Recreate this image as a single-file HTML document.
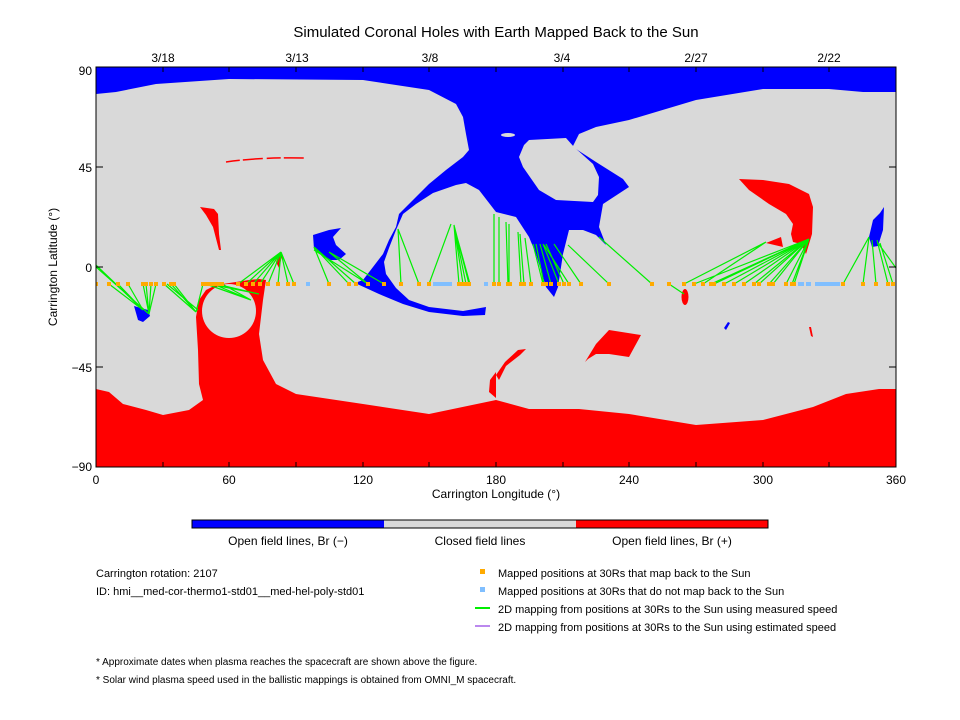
<!DOCTYPE html>
<html><head><meta charset="utf-8"><style>
html,body{margin:0;padding:0;background:#fff}
svg{display:block}
text{font-family:"Liberation Sans",sans-serif;fill:#000}
</style></head><body>
<svg width="960" height="720" viewBox="0 0 960 720" xmlns="http://www.w3.org/2000/svg">
<rect width="960" height="720" fill="#fff"/>
<text x="496" y="37" font-size="15" text-anchor="middle">Simulated Coronal Holes with Earth Mapped Back to the Sun</text>
<g font-size="12" text-anchor="middle">
<text x="163" y="62">3/18</text><text x="297" y="62">3/13</text><text x="430" y="62">3/8</text>
<text x="562" y="62">3/4</text><text x="696" y="62">2/27</text><text x="829" y="62">2/22</text>
</g>
<clipPath id="c"><rect x="96" y="67" width="800" height="400"/></clipPath>
<g clip-path="url(#c)">
<rect x="96" y="67" width="800" height="400" fill="#d9d9d9"/>
<path fill="#0000ff" d="M96,67 L896,67 L896,92 L863,92 L829,89 L763,89 L696,100 L629,120 L596,127 L579,134 L572,148 L576,149 L596,162 L623,179 L629,187 L603,204 L599,227 L606,245 L596,235 L583,230 L569,230 L563,254 L558,287 L554,297 L546,287 L536,254 L529,237 L516,217 L496,212 L479,190 L466,183 L456,185 L433,193 L416,204 L403,214 L396,230 L389,248 L384,262 L386,274 L396,288 L409,300 L429,307 L463,311 L486,307 L485,315 L463,316 L429,312 L403,304 L379,294 L355,283 L363,280 L373,267 L383,254 L389,240 L396,227 L399,214 L413,200 L429,184 L446,170 L463,157 L469,150 L466,134 L463,117 L456,104 L429,90 L363,80 L229,79 L156,84 L116,92 L96,94 Z"/>
<path fill="#d9d9d9" d="M529,140 L566,138 L574,147 L593,164 L599,177 L598,195 L593,202 L556,200 L539,190 L523,167 L519,157 L524,145 Z"/>
<ellipse cx="508" cy="135" rx="7" ry="2" fill="#d9d9d9"/>
<path fill="#ff0000" d="M96,389 L109,392 L123,404 L146,410 L163,415 L189,410 L203,400 L199,384 L198,350 L196,317 L199,300 L206,290 L216,285 L249,280 L259,279 L266,280 L263,300 L259,334 L263,360 L276,384 L296,394 L363,404 L429,414 L496,400 L529,409 L579,409 L629,414 L696,425 L763,420 L813,407 L846,394 L879,389 L896,389 L896,467 L96,467 Z"/>
<circle cx="229" cy="311" r="27" fill="#d9d9d9"/>
<path fill="#ff0000" d="M200,207 L214,209 L218,214 L219,234 L221,250 L219,250 L213,227 L206,215 Z"/>
<path d="M226,162 Q260,157 306,158" stroke="#ff0000" stroke-width="1.5" fill="none" stroke-dasharray="14,3,20,4"/>
<path fill="#ff0000" d="M276,262 L280,252 L282,256 L279,268 Z"/>
<path fill="#ff0000" d="M739,179 L763,180 L789,184 L809,194 L813,207 L812,234 L809,244 L806,254 L801,244 L793,242 L791,234 L793,224 L786,214 L769,204 L749,190 Z"/>
<path fill="#ff0000" d="M766,243 L781,237 L783,247 Z"/>
<ellipse cx="685" cy="297" rx="3.5" ry="8" fill="#ff0000"/>
<path fill="#ff0000" d="M585,362 L596,344 L609,330 L641,335 L629,357 L609,354 L596,354 L588,359 Z"/>
<path fill="#ff0000" d="M496,375 L505,362 L518,350 L526,349 L520,355 L506,366 L499,380 Z"/>
<path fill="#ff0000" d="M496,372 L490,380 L489,392 L496,398 Z"/>
<path fill="#ff0000" d="M809,327 L811,327 L813,337 L811,336 Z"/>
<path fill="#0000ff" d="M724,328 L728,322 L730,323 L726,330 Z"/>
<path fill="#0000ff" d="M884,207 L880,213 L873,220 L869,237 L872,247 L878,246 L883,230 Z"/>
<path fill="#0000ff" d="M313,235 L329,230 L341,228 L333,237 L336,245 L346,254 L339,260 L329,260 L314,249 Z"/>
<path fill="#0000ff" d="M134,306 L148,310 L150,316 L143,322 L138,320 Z"/>
<g stroke="#00ee00" stroke-width="1.2" fill="none">
<path d="M96,265 L143,310 M96,267 L149,314 M109,284 L143,310 M118,284 L143,310 M128,284 L143,310
M143,284 L149,314 M146,284 L149,314 M151,284 L149,314 M156,284 L149,314
M164,284 L196,312 M171,284 L196,312 M174,284 L196,312 M167,284 L198,310
M203,284 L196,312 M206,284 L251,300 M209,284 L259,294 M213,284 L251,300 M216,284 L259,294 M222,284 L251,300
M238,284 L281,252 M246,284 L281,252 M253,284 L281,252 M260,284 L281,252 M268,284 L281,252 M278,284 L281,252 M288,284 L281,252 M294,284 L281,252
M329,284 L314,247 M349,284 L314,247 M356,284 L314,247 M368,284 L329,252 M384,284 L329,252 M368,284 L314,250
M401,284 L398,229 M419,284 L398,229 M429,284 L451,224 M459,284 L454,225 M463,284 L454,225 M466,284 L454,225 M469,284 L454,225 M470,284 L454,226
M494,284 L494,214
M499,284 L499,217 M508,284 L506,222 M509,284 L509,224 M521,284 L518,232 M524,284 L520,234 M531,284 L525,238
M543,284 L533,244 M544,284 L536,244 M551,284 L540,244 M559,284 L543,244 M564,284 L546,244 M569,284 L544,245 M581,284 L554,244 M609,284 L568,245
M652,284 L599,237 M669,284 L684,294
M684,284 L766,242 M694,284 L809,239 M703,284 L766,242 M711,284 L809,239 M714,284 L809,239 M724,284 L809,239 M734,284 L809,239 M744,284 L809,239 M754,284 L809,239 M759,284 L809,239 M769,284 L809,239 M773,284 L809,239 M786,284 L809,239 M792,284 L809,239 M794,284 L809,239
M843,284 L869,237 M863,284 L869,237 M876,284 L872,240 M888,284 L877,240 M893,284 L880,243 M896,268 L878,243"/>
</g>
<g fill="#ffaa00">
<rect x="94" y="282" width="4" height="4"/><rect x="107" y="282" width="4" height="4"/><rect x="116" y="282" width="4" height="4"/><rect x="126" y="282" width="4" height="4"/>
<rect x="141" y="282" width="4" height="4"/><rect x="144" y="282" width="4" height="4"/><rect x="149" y="282" width="4" height="4"/><rect x="154" y="282" width="4" height="4"/>
<rect x="162" y="282" width="4" height="4"/><rect x="169" y="282" width="4" height="4"/><rect x="172" y="282" width="4" height="4"/>
<rect x="201" y="282" width="4" height="4"/><rect x="204" y="282" width="4" height="4"/><rect x="207" y="282" width="4" height="4"/><rect x="211" y="282" width="4" height="4"/><rect x="214" y="282" width="4" height="4"/><rect x="218" y="282" width="4" height="4"/><rect x="220" y="282" width="4" height="4"/>
<rect x="236" y="282" width="4" height="4"/><rect x="244" y="282" width="4" height="4"/><rect x="251" y="282" width="4" height="4"/><rect x="258" y="282" width="4" height="4"/><rect x="266" y="282" width="4" height="4"/><rect x="276" y="282" width="4" height="4"/><rect x="286" y="282" width="4" height="4"/><rect x="292" y="282" width="4" height="4"/>
<rect x="327" y="282" width="4" height="4"/><rect x="347" y="282" width="4" height="4"/><rect x="354" y="282" width="4" height="4"/><rect x="366" y="282" width="4" height="4"/><rect x="382" y="282" width="4" height="4"/>
<rect x="399" y="282" width="4" height="4"/><rect x="417" y="282" width="4" height="4"/><rect x="427" y="282" width="4" height="4"/>
<rect x="457" y="282" width="4" height="4"/><rect x="461" y="282" width="4" height="4"/><rect x="464" y="282" width="4" height="4"/><rect x="467" y="282" width="4" height="4"/><rect x="492" y="282" width="4" height="4"/>
<rect x="497" y="282" width="4" height="4"/><rect x="506" y="282" width="4" height="4"/><rect x="508" y="282" width="4" height="4"/><rect x="519" y="282" width="4" height="4"/><rect x="522" y="282" width="4" height="4"/><rect x="529" y="282" width="4" height="4"/>
<rect x="541" y="282" width="4" height="4"/><rect x="544" y="282" width="4" height="4"/><rect x="549" y="282" width="4" height="4"/><rect x="557" y="282" width="4" height="4"/><rect x="562" y="282" width="4" height="4"/><rect x="567" y="282" width="4" height="4"/><rect x="579" y="282" width="4" height="4"/>
<rect x="607" y="282" width="4" height="4"/><rect x="650" y="282" width="4" height="4"/><rect x="667" y="282" width="4" height="4"/>
<rect x="682" y="282" width="4" height="4"/><rect x="692" y="282" width="4" height="4"/><rect x="701" y="282" width="4" height="4"/><rect x="709" y="282" width="4" height="4"/><rect x="712" y="282" width="4" height="4"/><rect x="722" y="282" width="4" height="4"/><rect x="732" y="282" width="4" height="4"/><rect x="742" y="282" width="4" height="4"/><rect x="752" y="282" width="4" height="4"/><rect x="757" y="282" width="4" height="4"/><rect x="767" y="282" width="4" height="4"/><rect x="771" y="282" width="4" height="4"/><rect x="784" y="282" width="4" height="4"/><rect x="790" y="282" width="4" height="4"/><rect x="792" y="282" width="4" height="4"/>
<rect x="841" y="282" width="4" height="4"/><rect x="861" y="282" width="4" height="4"/><rect x="874" y="282" width="4" height="4"/><rect x="886" y="282" width="4" height="4"/><rect x="891" y="282" width="4" height="4"/>
</g>
<g fill="#80bfff">
<rect x="306" y="282" width="4" height="4"/><rect x="433" y="282" width="19" height="4"/><rect x="484" y="282" width="4" height="4"/>
<rect x="798" y="282" width="6" height="4"/><rect x="806" y="282" width="5" height="4"/><rect x="815" y="282" width="25" height="4"/>
</g>
</g>
<rect x="96" y="67" width="800" height="400" fill="none" stroke="#000" stroke-width="1"/>
<g stroke="#000" stroke-width="1">
<path d="M163,67v5M229,67v5M296,67v5M363,67v5M429,67v5M496,67v5M563,67v5M629,67v5M696,67v5M763,67v5M829,67v5
M163,467v-5M229,467v-5M296,467v-5M363,467v-5M429,467v-5M496,467v-5M563,467v-5M629,467v-5M696,467v-5M763,467v-5M829,467v-5
M96,167h7M96,267h7M96,367h7M896,167h-7M896,267h-7M896,367h-7"/>
</g>
<g font-size="12" text-anchor="middle">
<text x="96" y="484">0</text><text x="229" y="484">60</text><text x="363" y="484">120</text><text x="496" y="484">180</text>
<text x="629" y="484">240</text><text x="763" y="484">300</text><text x="896" y="484">360</text>
</g>
<g font-size="12" text-anchor="end">
<text x="92" y="75">90</text><text x="92" y="172">45</text><text x="92" y="272">0</text><text x="92" y="372">−45</text><text x="92" y="471">−90</text>
</g>
<text x="496" y="498" font-size="12" text-anchor="middle">Carrington Longitude (°)</text>
<text transform="translate(57,267) rotate(-90)" font-size="12" text-anchor="middle">Carrington Latitude (°)</text>
<rect x="192" y="520" width="192" height="8" fill="#0000ff"/>
<rect x="384" y="520" width="192" height="8" fill="#d9d9d9"/>
<rect x="576" y="520" width="192" height="8" fill="#ff0000"/>
<rect x="192" y="520" width="576" height="8" fill="none" stroke="#000"/>
<g font-size="12" text-anchor="middle">
<text x="288" y="545">Open field lines, Br (−)</text>
<text x="480" y="545">Closed field lines</text>
<text x="672" y="545">Open field lines, Br (+)</text>
</g>
<g font-size="11">
<text x="96" y="577">Carrington rotation: 2107</text>
<text x="96" y="595">ID: hmi__med-cor-thermo1-std01__med-hel-poly-std01</text>
<text x="498" y="577">Mapped positions at 30Rs that map back to the Sun</text>
<text x="498" y="595">Mapped positions at 30Rs that do not map back to the Sun</text>
<text x="498" y="613">2D mapping from positions at 30Rs to the Sun using measured speed</text>
<text x="498" y="631">2D mapping from positions at 30Rs to the Sun using estimated speed</text>
</g>
<rect x="480" y="569" width="5" height="5" fill="#ffaa00"/>
<rect x="480" y="587" width="5" height="5" fill="#80bfff"/>
<rect x="475" y="607" width="15" height="2" fill="#00ee00"/>
<rect x="475" y="625" width="15" height="2" fill="#bb88ee"/>
<g font-size="10">
<text x="96" y="665">* Approximate dates when plasma reaches the spacecraft are shown above the figure.</text>
<text x="96" y="683">* Solar wind plasma speed used in the ballistic mappings is obtained from OMNI_M spacecraft.</text>
</g>
</svg>
</body></html>
